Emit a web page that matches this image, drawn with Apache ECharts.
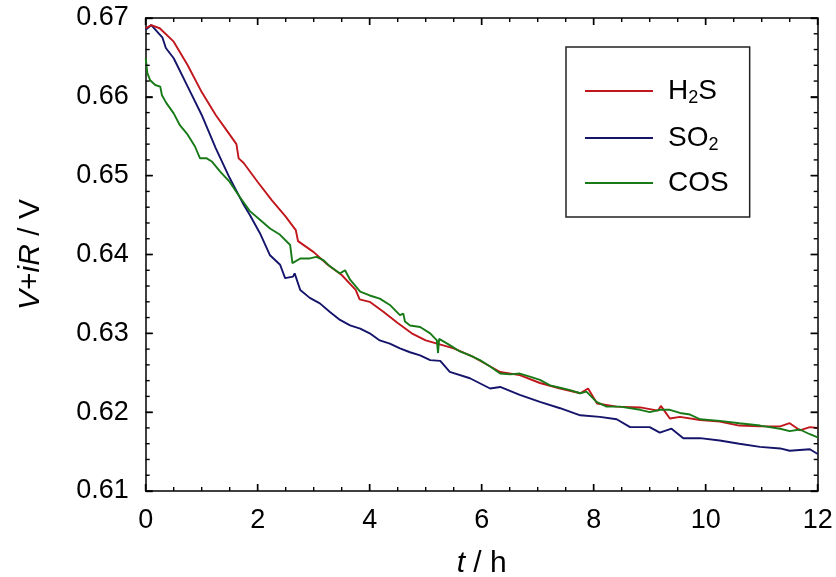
<!DOCTYPE html>
<html><head><meta charset="utf-8">
<script src="https://cdn.jsdelivr.net/npm/echarts@6/dist/echarts.min.js"></script>
<style>html,body{margin:0;padding:0;background:#fff}#c{width:836px;height:577px}</style>
</head><body><div id="c"></div>
<script>
var xTicks = [0, 2, 4, 6, 8, 10, 12];
var yTicks = [0.61, 0.62, 0.63, 0.64, 0.65, 0.66, 0.67];

var tH2S = [0, 0.1, 0.25, 0.5, 0.75, 1, 1.25, 1.5, 1.62, 1.66, 1.75, 2, 2.25, 2.5, 2.68, 2.72, 3, 3.25, 3.5, 3.75, 3.82, 4, 4.25, 4.5, 4.75, 5, 5.25, 5.5, 5.85, 6.33, 6.68, 7.04, 7.4, 7.76, 7.9, 8.06, 8.41, 8.83, 9.15, 9.2, 9.36, 9.54, 9.9, 10.25, 10.6, 10.97, 11.33, 11.5, 11.68, 11.86, 12];
var vH2S = [0.6687, 0.6691, 0.6687, 0.6670, 0.6640, 0.6606, 0.6577, 0.6552, 0.6540, 0.6522, 0.6516, 0.6492, 0.6469, 0.6448, 0.6431, 0.6417, 0.6403, 0.6387, 0.6374, 0.6355, 0.6343, 0.6340, 0.6327, 0.6313, 0.6300, 0.6291, 0.6286, 0.6281, 0.6270, 0.6251, 0.6247, 0.6237, 0.6230, 0.6224, 0.6230, 0.6211, 0.6207, 0.6206, 0.6202, 0.6208, 0.6192, 0.6194, 0.6190, 0.6188, 0.6183, 0.6182, 0.6182, 0.6186, 0.6177, 0.6181, 0.6180];

var tSO2 = [0, 0.1, 0.3, 0.36, 0.5, 0.75, 1, 1.25, 1.5, 1.75, 1.86, 2.04, 2.22, 2.4, 2.49, 2.63, 2.66, 2.76, 2.93, 3.11, 3.29, 3.47, 3.65, 3.83, 4.0, 4.18, 4.36, 4.54, 4.72, 4.9, 5.08, 5.26, 5.43, 5.79, 6.15, 6.33, 6.68, 7.04, 7.4, 7.76, 8.11, 8.41, 8.65, 9.0, 9.18, 9.39, 9.6, 9.9, 10.25, 10.6, 10.97, 11.33, 11.5, 11.86, 12];
var vSO2 = [0.6685, 0.6691, 0.6675, 0.6662, 0.6649, 0.6613, 0.6577, 0.6535, 0.6497, 0.6463, 0.6450, 0.6427, 0.6399, 0.6387, 0.6370, 0.6372, 0.6376, 0.6355, 0.6345, 0.6338, 0.6327, 0.6317, 0.6310, 0.6306, 0.6300, 0.6291, 0.6287, 0.6281, 0.6276, 0.6272, 0.6266, 0.6265, 0.6251, 0.6243, 0.6230, 0.6232, 0.6222, 0.6213, 0.6205, 0.6196, 0.6194, 0.6191, 0.6181, 0.6181, 0.6174, 0.6179, 0.6167, 0.6167, 0.6164, 0.6160, 0.6156, 0.6154, 0.6151, 0.6153, 0.6147];

var tCOS = [0, 0.03, 0.08, 0.17, 0.26, 0.29, 0.37, 0.5, 0.61, 0.75, 0.88, 0.97, 1.09, 1.18, 1.33, 1.5, 1.68, 1.86, 2.04, 2.22, 2.4, 2.58, 2.62, 2.76, 2.93, 3.05, 3.17, 3.29, 3.47, 3.56, 3.65, 3.83, 4.0, 4.18, 4.36, 4.54, 4.6, 4.63, 4.72, 4.9, 5.08, 5.2, 5.22, 5.24, 5.43, 5.61, 5.79, 5.97, 6.15, 6.33, 6.51, 6.68, 6.86, 7.04, 7.22, 7.4, 7.58, 7.76, 7.87, 8.05, 8.23, 8.47, 8.83, 9.0, 9.18, 9.36, 9.54, 9.72, 9.9, 10.25, 10.6, 10.97, 11.33, 11.5, 11.68, 11.86, 12];
var vCOS = [0.6649, 0.6630, 0.6621, 0.6615, 0.6613, 0.6602, 0.6592, 0.6579, 0.6564, 0.6552, 0.6537, 0.6522, 0.6522, 0.6518, 0.6505, 0.6492, 0.6473, 0.6455, 0.6444, 0.6433, 0.6425, 0.6412, 0.6389, 0.6395, 0.6395, 0.6397, 0.6393, 0.6385, 0.6376, 0.6380, 0.6368, 0.6353, 0.6348, 0.6344, 0.6336, 0.6323, 0.6325, 0.6315, 0.6310, 0.6308, 0.6300, 0.6291, 0.6275, 0.6293, 0.6285, 0.6277, 0.6272, 0.6266, 0.6258, 0.6249, 0.6248, 0.6249, 0.6245, 0.6241, 0.6234, 0.6231, 0.6228, 0.6224, 0.6226, 0.6213, 0.6207, 0.6207, 0.6203, 0.6200, 0.6203, 0.6203, 0.6199, 0.6197, 0.6191, 0.6189, 0.6186, 0.6183, 0.6179, 0.6176, 0.6178, 0.6172, 0.6168];

var seriesNames = ['H2S', 'SO2', 'COS'];
var seriesColors = ['#c0161c', '#14146b', '#177a17'];
var xMinorPerMajor = 4, yMinorPerMajor = 5;

function pairs(t, v) { return t.map(function (x, i) { return [x, v[i]]; }); }

function tickItems(ticks, nSub, isX) {
  var out = [];
  for (var i = 0; i < ticks.length; i++) {
    out.push(isX ? [ticks[i], yTicks[0], 1] : [xTicks[0], ticks[i], 1]);
    if (i < ticks.length - 1) {
      var step = (ticks[i + 1] - ticks[i]) / nSub;
      for (var j = 1; j < nSub; j++) {
        var v = +(ticks[i] + j * step).toFixed(6);
        out.push(isX ? [v, yTicks[0], 0] : [xTicks[0], v, 0]);
      }
    }
  }
  return out;
}

var FONT = 'Liberation Sans, Arial, sans-serif';
var chart = echarts.init(document.getElementById('c'));

function makeAxis(extra) {
  var a = {
    type: 'value',
    axisLine: { show: true, onZero: false, lineStyle: { color: '#000', width: 1.5 } },
    axisTick: { show: true, inside: true, length: 7, lineStyle: { color: '#000', width: 1.4 } },
    axisLabel: { show: false },
    splitLine: { show: false }
  };
  for (var k in extra) a[k] = extra[k];
  return a;
}

function tickRenderer(isX) {
  return function (params, api) {
    var cs = params.coordSys;
    var major = api.value(2) === 1;
    var len = major ? 7 : 4;
    var p = api.coord([api.value(0), api.value(1)]);
    var style = { stroke: '#000', lineWidth: 1.4, fill: null };
    var shapes;
    if (isX) {
      var yb = cs.y + cs.height, yt = cs.y;
      shapes = [[p[0], yb, p[0], yb - len], [p[0], yt, p[0], yt + len]];
    } else {
      var xl = cs.x, xr = cs.x + cs.width;
      shapes = [[xl, p[1], xl + len, p[1]], [xr, p[1], xr - len, p[1]]];
    }
    return { type: 'group', children: shapes.map(function (s) {
      return { type: 'line', shape: { x1: s[0], y1: s[1], x2: s[2], y2: s[3] }, style: style, z2: 100 };
    }) };
  };
}

var legendFmt = {
  'H2S': '{n|H}{s|2}{n|S}',
  'SO2': '{n|SO}{s|2}',
  'COS': '{n|COS}'
};

var nameRich = {
  i: { fontFamily: FONT, fontSize: 30, fontStyle: 'italic', color: '#000' },
  n: { fontFamily: FONT, fontSize: 30, color: '#000' }
};

chart.setOption({
  animation: false,
  grid: { left: 145.7, right: 18.3, top: 18, bottom: 86, outerBoundsMode: 'none' },
  legend: {
    left: 566, top: 47,
    orient: 'vertical',
    data: seriesNames,
    icon: 'rect',
    itemWidth: 68, itemHeight: 2,
    itemGap: 15,
    padding: [28, 21, 20, 19],
    borderColor: '#222', borderWidth: 1.5,
    formatter: function (n) { return legendFmt[n]; },
    textStyle: {
      color: '#000', padding: [0, 0, 0, 10],
      rich: {
        n: { fontFamily: FONT, fontSize: 28, color: '#000', lineHeight: 32 },
        s: { fontFamily: FONT, fontSize: 18, color: '#000', lineHeight: 32, padding: [14, 0, 0, 0] }
      }
    }
  },
  xAxis: [
    makeAxis({
      min: 0, max: 12, interval: 2, position: 'bottom',
      axisLabel: { show: true, color: '#000', fontFamily: FONT, fontSize: 27, margin: 16 },
      name: '{i|t}{n| / h}', nameLocation: 'middle', nameGap: 58,
      nameTextStyle: { rich: nameRich }
    }),
    makeAxis({ min: 0, max: 12, interval: 2, position: 'top' })
  ],
  yAxis: [
    makeAxis({
      min: 0.61, max: 0.67, interval: 0.01, position: 'left',
      axisLabel: { show: true, color: '#000', fontFamily: FONT, fontSize: 27, margin: 17,
        formatter: function (v) { return v.toFixed(2); } },
      name: '{i|V}{n|+}{i|iR}{n| / V}', nameLocation: 'middle', nameGap: 100, nameRotate: 90,
      nameTextStyle: { rich: nameRich }
    }),
    makeAxis({ min: 0.61, max: 0.67, interval: 0.01, position: 'right' })
  ],
  series: [
    { name: seriesNames[1], type: 'line', data: pairs(tSO2, vSO2), showSymbol: false, symbol: 'none',
      lineStyle: { color: seriesColors[1], width: 1.9 }, itemStyle: { color: seriesColors[1] } },
    { name: seriesNames[0], type: 'line', data: pairs(tH2S, vH2S), showSymbol: false, symbol: 'none',
      lineStyle: { color: seriesColors[0], width: 1.9 }, itemStyle: { color: seriesColors[0] } },
    { name: seriesNames[2], type: 'line', data: pairs(tCOS, vCOS), showSymbol: false, symbol: 'none',
      lineStyle: { color: seriesColors[2], width: 1.9 }, itemStyle: { color: seriesColors[2] } },
    { name: 'xticks', type: 'custom', coordinateSystem: 'cartesian2d', xAxisIndex: 0, yAxisIndex: 0,
      silent: true, clip: false, z: 10, encode: { x: 0, y: 1 },
      data: tickItems(xTicks, xMinorPerMajor, true), renderItem: tickRenderer(true) },
    { name: 'yticks', type: 'custom', coordinateSystem: 'cartesian2d', xAxisIndex: 0, yAxisIndex: 0,
      silent: true, clip: false, z: 10, encode: { x: 0, y: 1 },
      data: tickItems(yTicks, yMinorPerMajor, false), renderItem: tickRenderer(false) }
  ]
});
</script></body></html>
